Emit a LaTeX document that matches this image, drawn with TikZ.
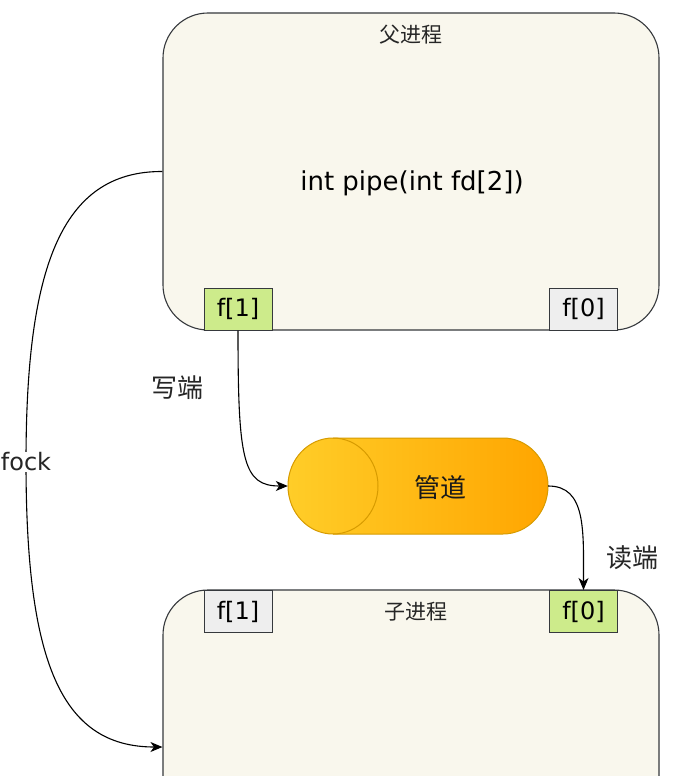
\documentclass[tikz,border=0pt]{standalone}
\usepackage{fontspec}
\setmainfont{Noto Sans CJK SC}
\newfontfamily\latinfont{DejaVu Sans}
\usetikzlibrary{arrows.meta}
\definecolor{procfill}{HTML}{F9F7ED}
\definecolor{edge}{HTML}{36393D}
\definecolor{fgreen}{HTML}{CDEB8B}
\definecolor{fgray}{HTML}{EEEEEE}
\definecolor{pipeL}{HTML}{FFCD28}
\definecolor{pipeR}{HTML}{FFA500}
\definecolor{pipeS}{HTML}{D79B00}
\tikzset{
  procbox/.style={draw=edge, fill=procfill, line width=1.1pt, rounded corners=45pt, inner sep=0pt},
  fbox/.style={draw=edge, line width=1pt, minimum width=68pt, minimum height=42pt, inner sep=0pt, font=\latinfont\fontsize{24}{26}\selectfont},
  title/.style={font=\fontsize{21}{23}\selectfont, text=black!85},
  lbl/.style={font=\fontsize{26}{28}\selectfont, text=black!85},
  conn/.style={draw=black, line width=1.1pt, -{Stealth[length=12pt,width=10pt,inset=3.5pt]}}
}
\begin{document}
\begin{tikzpicture}[x=1pt,y=-1pt]
\useasboundingbox (0,0) rectangle (698,776);
\fill[white] (0,0) rectangle (698,776);
\begin{scope}
\clip (0,0) rectangle (698,776);
% parent process
\node[procbox, minimum width=496pt, minimum height=317pt] (parent) at (411,171.5) {};
\node[title] (ptitle) at (411,35) {父进程};
\node[font=\latinfont\fontsize{26}{28}\selectfont] (call) at (412,183) {int pipe(int fd[2])};
\node[fbox, fill=fgreen] (pf1) at (238,309) {f[1]};
\node[fbox, fill=fgray] (pf0) at (583.5,309) {f[0]};
% child process
\node[procbox, minimum width=496pt, minimum height=314pt] (child) at (411,747) {};
\node[title] (ctitle) at (416,612) {子进程};
\node[fbox, fill=fgray] (cf1) at (238,611.5) {f[1]};
\node[fbox, fill=fgreen] (cf0) at (583.5,611.5) {f[0]};
\end{scope}
% pipe
\node[minimum width=260pt, minimum height=96pt, inner sep=0pt] (pipe) at (418,486) {};
\path[draw=pipeS, line width=1pt, left color=pipeL, right color=pipeR]
  (333,438) -- (503,438) arc[start angle=-90, end angle=90, x radius=45, y radius=48]
  -- (333,534) arc[start angle=90, end angle=270, x radius=45, y radius=48] -- cycle;
\draw[pipeS, line width=1pt] (333,438) arc[start angle=-90, end angle=90, x radius=45, y radius=48];
\node[font=\fontsize{26}{28}\selectfont, text=black!90] (pipetext) at (440,488) {管道};
% connectors
\draw[conn] (pf1.south) .. controls +(0,130) and +(-45,0) .. (pipe.west);
\node[lbl] (wlabel) at (177,388) {写端};
\draw[conn] (pipe.east) .. controls +(38,0) and +(0,-60) .. (cf0.north);
\node[lbl] (rlabel) at (632,558) {读端};
\coordinate (forkmid) at (26,462);
\draw[conn] (parent.west) .. controls (60,171) and (26,270) .. (forkmid) .. controls (26,660) and (60,747) .. (child.west);
\node[fill=white, inner sep=1pt, font=\latinfont\fontsize{24}{26}\selectfont, text=black!85] (fock) at (forkmid) {fock};
\end{tikzpicture}
\end{document}
